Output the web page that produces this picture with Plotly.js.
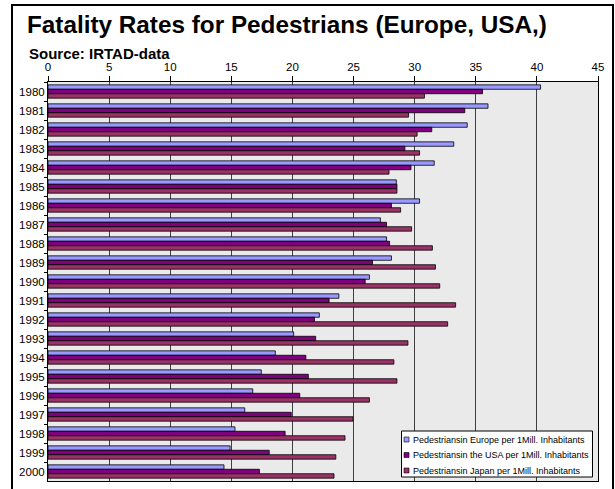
<!DOCTYPE html>
<html>
<head>
<meta charset="utf-8">
<script src="https://cdn.plot.ly/plotly-3.0.1.min.js"></script>
<style>html,body{margin:0;padding:0;background:#fff;}#chart{width:615px;height:489px;}</style>
</head>
<body>
<div id="chart"></div>
<script>
const years = ["1980","1981","1982","1983","1984","1985","1986","1987","1988","1989","1990",
               "1991","1992","1993","1994","1995","1996","1997","1998","1999","2000"];
const europe = [40.3,36.0,34.3,33.2,31.6,28.5,30.4,27.2,27.7,28.1,26.3,23.8,22.2,20.1,18.6,17.45,16.75,16.1,15.3,14.9,14.4];
const usa    = [35.55,34.1,31.4,29.2,29.7,28.55,28.1,27.7,27.95,26.55,25.95,23.0,21.8,21.9,21.1,21.3,20.6,19.9,19.4,18.1,17.3];
const japan  = [30.8,29.5,30.2,30.4,27.9,28.55,28.85,29.75,31.45,31.7,32.05,33.35,32.7,29.45,28.3,28.55,26.3,24.95,24.3,23.55,23.4];
const seriesNames = ["Pedestriansin Europe per 1Mill. Inhabitants",
                     "Pedestriansin the USA per 1Mill. Inhabitants",
                     "Pedestriansin Japan per 1Mill. Inhabitants"];
const seriesColors = ["#9999FF","#800080","#993366"];
const xTicks = [0,5,10,15,20,25,30,35,40,45];

const data = [europe, usa, japan].map((vals, i) => ({
  type: "bar",
  orientation: "h",
  y: years,
  x: vals,
  name: seriesNames[i],
  marker: {color: seriesColors[i], line: {color: "#000", width: 0.8}},
  hoverinfo: "x+y+name"
}));

// pixel -> paper helpers (plot area: x 48..598, y 82..481)
const PL = 48, PR = 598, PT = 82, PB = 481;
const px = x => (x - PL) / (PR - PL);
const py = y => (PB - y) / (PB - PT);

const font = "Liberation Sans, Arial, sans-serif";

// manual legend (box + swatches + text)
const legRows = [439.5, 455, 470.5];
const legShapes = [{
  type: "rect", xref: "paper", yref: "paper",
  x0: px(401.5), x1: px(592.5), y0: py(477), y1: py(431),
  fillcolor: "#fff", line: {color: "#000", width: 1}, layer: "above"
}];
const legAnn = [];
seriesNames.forEach((n, i) => {
  legShapes.push({
    type: "rect", xref: "paper", yref: "paper",
    x0: px(404), x1: px(409), y0: py(legRows[i] + 2.5), y1: py(legRows[i] - 2.5),
    fillcolor: seriesColors[i], line: {color: "#000", width: 0.6}, layer: "above"
  });
  legAnn.push({
    text: n, xref: "paper", yref: "paper",
    x: px(411), xanchor: "left", y: py(legRows[i]), yanchor: "middle",
    showarrow: false, font: {family: font, size: 9, color: "#000"}
  });
});

const layout = {
  width: 615, height: 489,
  margin: {l: PL, r: 615 - PR, t: PT, b: 489 - PB, pad: 0},
  paper_bgcolor: "#fff",
  plot_bgcolor: "#EAEAEA",
  font: {family: font, color: "#000", size: 11},
  barmode: "group",
  bargap: 0.3,
  bargroupgap: 0,
  showlegend: false,
  title: {
    text: "<b>Fatality Rates for Pedestrians (Europe, USA,)</b>",
    font: {family: font, size: 24.3, color: "#000"},
    xref: "container", yref: "container",
    x: 27/615, xanchor: "left",
    y: 1 - 24/489, yanchor: "middle"
  },
  annotations: [{
    text: "<b>Source: IRTAD-data</b>",
    xref: "paper", yref: "paper",
    x: px(27), xanchor: "left",
    y: py(53), yanchor: "middle",
    showarrow: false,
    font: {family: font, size: 15, color: "#000"}
  }].concat(legAnn),
  xaxis: {
    side: "top",
    range: [0, 45],
    tickvals: xTicks,
    ticktext: xTicks.map(String),
    showgrid: true, gridcolor: "#404040", gridwidth: 1,
    zeroline: false,
    showline: true, linecolor: "#000", linewidth: 1, mirror: true,
    ticks: "outside", ticklen: 5, tickcolor: "#000",
    tickfont: {family: font, size: 11.5, color: "#000"},
    fixedrange: true
  },
  yaxis: {
    type: "category",
    autorange: "reversed",
    showgrid: false,
    showline: true, linecolor: "#000", linewidth: 1, mirror: true,
    ticks: "outside", ticklen: 3, tickcolor: "#000",
    tickson: "boundaries",
    tickfont: {family: font, size: 11.5, color: "#000"},
    fixedrange: true
  },
  shapes: [{
    type: "rect", xref: "paper", yref: "paper",
    x0: px(12), x1: px(613),
    y0: py(495), y1: py(5),
    line: {color: "#000", width: 2}, fillcolor: "rgba(0,0,0,0)",
    layer: "below"
  }].concat(legShapes)
};

Plotly.newPlot("chart", data, layout, {displayModeBar: false, staticPlot: true});
</script>
</body>
</html>
